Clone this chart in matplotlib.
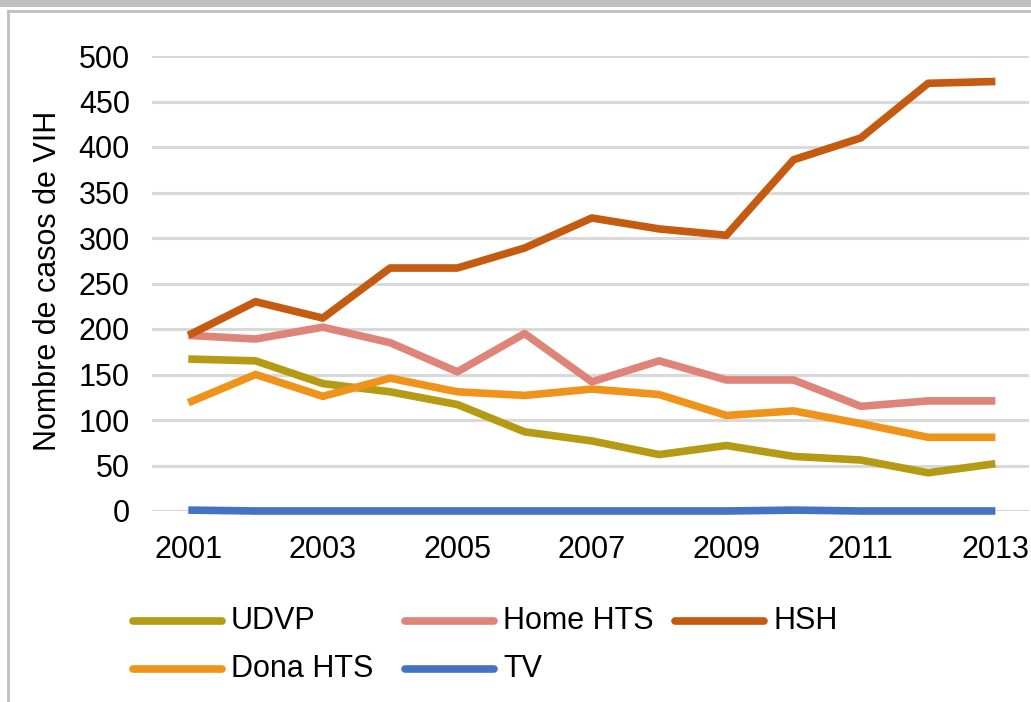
import matplotlib
matplotlib.use("Agg")
import matplotlib.pyplot as plt
from matplotlib.lines import Line2D
from matplotlib.patches import Rectangle

plt.rcParams['font.family'] = ['Liberation Sans', 'DejaVu Sans']

years = list(range(2001, 2014))
udvp = [167, 165, 140, 131, 117, 87, 77, 62, 72, 60, 56, 42, 52]
home_hts = [193, 189, 202, 185, 153, 195, 142, 165, 144, 144, 115, 121, 121]
hsh = [193, 230, 212, 267, 267, 289, 322, 310, 303, 386, 410, 470, 472]
dona_hts = [119, 150, 126, 146, 131, 127, 134, 128, 105, 110, 96, 81, 81]
tv = [1, 0, 0, 0, 0, 0, 0, 0, 0, 1, 0, 0, 0]

series = [("UDVP", udvp, "#B59B14"),
          ("Home HTS", home_hts, "#DE8479"),
          ("HSH", hsh, "#C55A11"),
          ("Dona HTS", dona_hts, "#F0931A"),
          ("TV", tv, "#4472C4")]

W, H = 1031, 702
fig = plt.figure(figsize=(W/100, H/100), dpi=100)

# frame decorations
fig.add_artist(Rectangle((0, 1-7/H), 1, 7/H, transform=fig.transFigure, color="#BFBFBF", lw=0))
fig.add_artist(Line2D([8/W, 1], [1-11/H, 1-11/H], transform=fig.transFigure, color="#BFBFBF", lw=2))
fig.add_artist(Line2D([8/W, 8/W], [1-11/H, 0], transform=fig.transFigure, color="#BFBFBF", lw=2))

ax = fig.add_axes([152/W, 1-511/H, (1029-152)/W, (511-56)/H])
for name, vals, col in series:
    ax.plot(years, vals, color=col, lw=5.5, solid_capstyle='butt', zorder=3, clip_on=False)

ax.set_ylim(0, 500)
ax.set_xlim(2001-0.54, 2013+0.5)
ax.set_yticks(range(0, 501, 50))
ax.set_xticks(range(2001, 2014, 2))
ax.grid(axis='y', color='#D9D9D9', lw=2.2, zorder=0)
ax.set_axisbelow(True)
for s in ax.spines.values():
    s.set_visible(False)
ax.tick_params(axis='both', length=0, labelsize=22, colors='black')
ax.tick_params(axis='y', pad=16)
ax.tick_params(axis='x', pad=17)
ax.set_ylabel("Nombre de casos de VIH", fontsize=22)
ax.yaxis.set_label_coords(-(152-48)/(1029-152), 0.505)
ax.yaxis.label.set_va('center')

# manual legend
leg = [("UDVP", "#B59B14", 133, 621), ("Home HTS", "#DE8479", 405, 621),
       ("HSH", "#C55A11", 675, 621), ("Dona HTS", "#F0931A", 133, 669),
       ("TV", "#4472C4", 405, 669)]
for name, col, x0, y0 in leg:
    fig.add_artist(Line2D([x0/W, (x0+89)/W], [1-y0/H, 1-y0/H], transform=fig.transFigure,
                          color=col, lw=5.5, solid_capstyle='round'))
    fig.text((x0+98)/W, 1-y0/H, name, fontsize=22, va='center', ha='left')

fig.savefig("out.png", dpi=100)
